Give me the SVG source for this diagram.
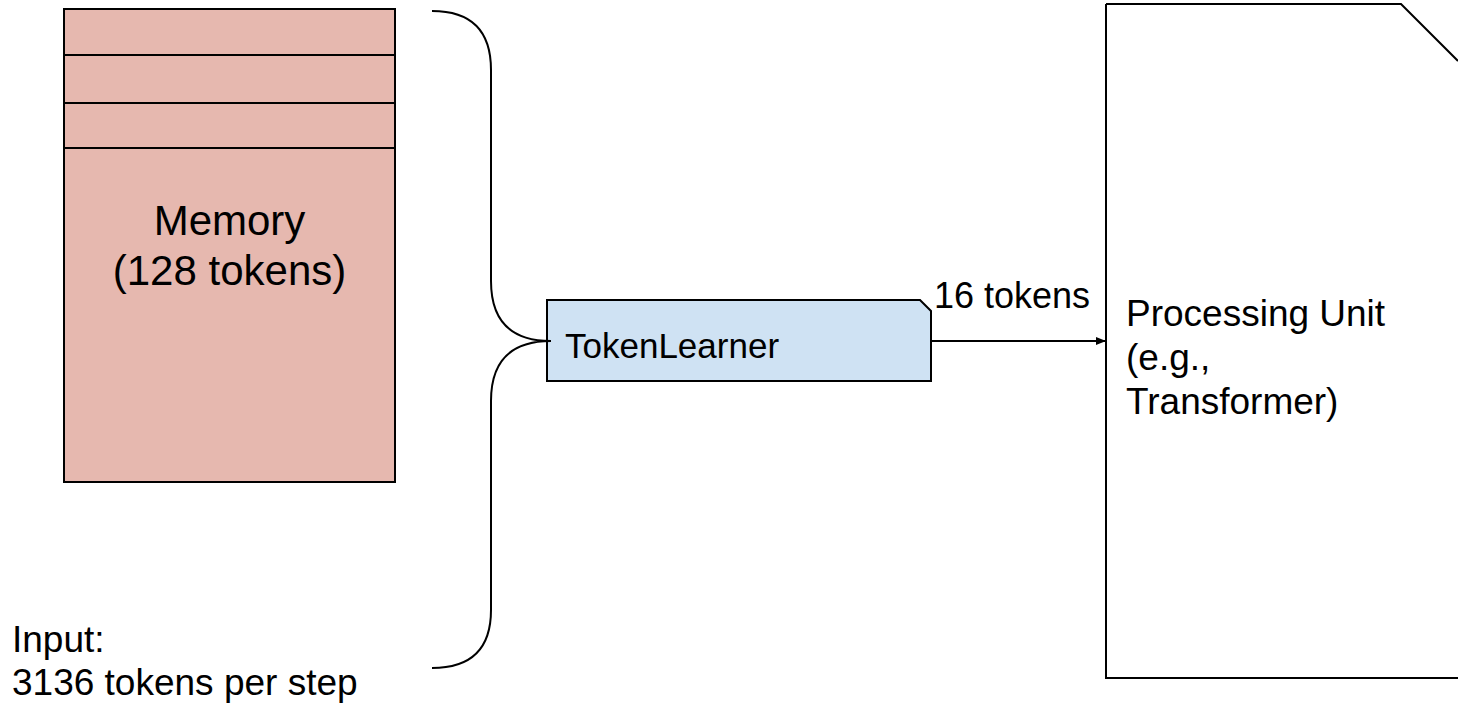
<svg xmlns="http://www.w3.org/2000/svg" width="1458" height="704" viewBox="0 0 1458 704">
<style>
.t{font-family:"Liberation Sans",Arial,sans-serif;fill:#000}
.s{stroke:#000;stroke-width:2;fill:none}
</style>
<defs>
<marker id="ah" markerWidth="10" markerHeight="8" refX="9" refY="4" orient="auto" markerUnits="userSpaceOnUse">
<path d="M0,0 L10,4 L0,8 Z" fill="#000"/>
</marker>
</defs>
<rect width="1458" height="704" fill="#fff"/>
<g id="memory">
<rect x="64" y="9" width="331" height="473" fill="#e6b8af" stroke="#000" stroke-width="2"/>
<line x1="64" y1="55" x2="395" y2="55" class="s"/>
<line x1="64" y1="103" x2="395" y2="103" class="s"/>
<line x1="64" y1="148" x2="395" y2="148" class="s"/>
<text class="t" x="229.5" y="235" font-size="42" text-anchor="middle">Memory</text>
<text class="t" x="229.5" y="285" font-size="42" text-anchor="middle">(128 tokens)</text>
</g>
<g id="input">
<text class="t" x="12" y="652" font-size="37">Input:</text>
<text class="t" x="12" y="695" font-size="37">3136 tokens per step</text>
</g>
<g id="tokenlearner">
<path d="M547,300 L920,300 L931,311 L931,381 L547,381 Z" fill="#cfe2f3" stroke="#000" stroke-width="2"/>
<text class="t" x="565" y="358" font-size="35">TokenLearner</text>
</g>
<g id="processing">
<path d="M1106,4 L1401,4 L1458,61 M1458,678 L1106,678 L1106,4" fill="#fff" stroke="#000" stroke-width="2"/>
<text class="t" x="1126" y="326" font-size="37">Processing Unit</text>
<text class="t" x="1126" y="370" font-size="37">(e.g.,</text>
<text class="t" x="1126" y="414" font-size="37">Transformer)</text>
</g>
<g id="connectors">
<path class="s" d="M432,11 Q491,11 491,70 L491,281 Q491,341 551,341 Q491,341 491,401 L491,610 Q491,668 432,668"/>
<line x1="931" y1="341" x2="1105" y2="341" class="s" marker-end="url(#ah)"/>
<text class="t" x="934" y="308" font-size="36">16 tokens</text>
</g>
</svg>
